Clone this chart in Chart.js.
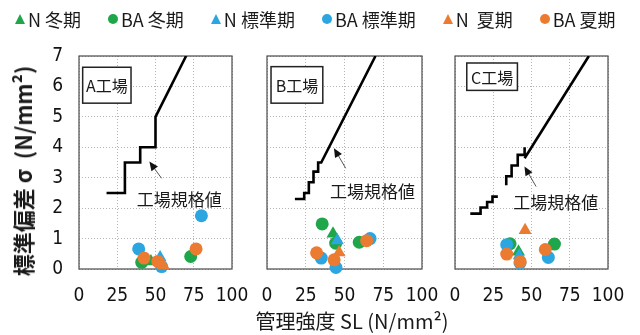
<!DOCTYPE html>
<html lang="ja">
<head>
<meta charset="utf-8">
<title>工場規格値と標準偏差</title>
<script src="https://cdn.jsdelivr.net/npm/chart.js@4.4.1/dist/chart.umd.min.js"></script>
<style>
  body { margin: 0; background: #fff; }
  #wrap { position: relative; width: 640px; height: 335px; overflow: hidden;
          font-family: "Noto Sans CJK JP", "Noto Sans", sans-serif; color: #1a1a1a; }
  #wrap canvas { position: absolute; left: 0; top: 0; }
  #legend { position: absolute; left: 15px; top: 8px; display: flex; gap: 27px;
            font-size: 18px; line-height: 22px; white-space: pre; }
  .item { display: flex; align-items: center; gap: 3px; }
  .tri { width: 0; height: 0; border-left: 5px solid transparent; border-right: 5px solid transparent;
         border-bottom: 10px solid; }
  .dot { width: 10px; height: 10px; border-radius: 50%; }
  #ytitle { position: absolute; left: 22px; top: 171px; transform: translate(-50%, -50%) rotate(-90deg);
            font-size: 22px; font-weight: bold; white-space: pre; }
  #xtitle { position: absolute; left: 352px; top: 320px; transform: translate(-50%, -50%);
            font-size: 20px; white-space: pre; }
</style>
</head>
<body>
<div id="wrap">
  <canvas id="chartA" width="640" height="335"></canvas>
  <canvas id="chartB" width="640" height="335"></canvas>
  <canvas id="chartC" width="640" height="335"></canvas>
  <div id="legend"></div>
  <div id="ytitle">標準偏差 σ  (N/mm²)</div>
  <div id="xtitle">管理強度 SL (N/mm²)</div>
</div>
<script>
const xTicks = [0, 25, 50, 75, 100];
const yTicks = [0, 1, 2, 3, 4, 5, 6, 7];
const seriesLabels = ['N 冬期', 'BA 冬期', 'N 標準期', 'BA 標準期', 'N  夏期', 'BA 夏期'];
const seriesColors = ['#1fa64a', '#1fa64a', '#2ba6e0', '#2ba6e0', '#ec7b32', '#ec7b32'];
const seriesShapes = ['triangle', 'circle', 'triangle', 'circle', 'triangle', 'circle'];

// A工場  [SL, σ]
const aNWinter = [[47, 0.25]];
const aBAWinter = [[41, 0.22], [73, 0.41]];
const aNStandard = [[53, 0.38]];
const aBAStandard = [[39, 0.66], [54, 0.08], [80, 1.75]];
const aNSummer = [[55, 0.12]];
const aBASummer = [[42.5, 0.36], [51.5, 0.25], [76.5, 0.66]];
const aLimit = [[18, 2.5], [30, 2.5], [30, 3.5], [40, 3.5], [40, 4], [50, 4], [50, 5], [70, 7]];

// B工場
const bNWinter = [[42.6, 1.16]];
const bBAWinter = [[35.6, 1.48], [44.3, 0.85], [59.5, 0.88]];
const bNStandard = [[45.4, 0.94]];
const bBAStandard = [[35, 0.36], [44.5, 0.05], [66.5, 1.0]];
const bNSummer = [[46.5, 0.54]];
const bBASummer = [[32, 0.53], [43.3, 0.3], [64.3, 0.93]];
const bLimit = [[18, 2.3], [24, 2.3], [24, 2.5], [27, 2.5], [27, 2.85], [30, 2.85], [30, 3.2], [33, 3.2],
                [33, 3.5], [35, 3.5], [70, 7]];

// C工場
const cNWinter = [[41.5, 0.57]];
const cBAWinter = [[36, 0.83], [65, 0.82]];
const cNStandard = [[42, 0.44]];
const cBAStandard = [[33.8, 0.8], [42.5, 0.2], [61, 0.38]];
const cNSummer = [[45.8, 1.27]];
const cBASummer = [[33.8, 0.49], [42.6, 0.24], [59, 0.64]];
const cLimitLow = [[10, 1.82], [16.7, 1.82], [16.7, 2.02], [21, 2.02], [21, 2.2], [24.5, 2.2],
                   [24.5, 2.38], [28, 2.38]];
const cLimitHigh = [[33.5, 2.75], [33.5, 3.05], [37, 3.05], [37, 3.4], [41, 3.4], [41, 3.75],
                    [45.5, 3.75], [45.5, 4.0]];
const cLimitSlope = [[45.5, 3.64], [87.5, 7]];

const noteText = '工場規格値';

const panels = [
  { id: 'chartA', name: 'A工場', yAxis: true, pad: { left: 0, right: 408 },
    series: [aNWinter, aBAWinter, aNStandard, aBAStandard, aNSummer, aBASummer], limits: [aLimit],
    box: [2.4, 6.63, 34, 5.45], note: [65.6, 2.27], arrow: [54, 2.98, 46, 3.53] },
  { id: 'chartB', name: 'B工場', yAxis: false, pad: { left: 267, right: 218 },
    series: [bNWinter, bBAWinter, bNStandard, bBAStandard, bNSummer, bBASummer], limits: [bLimit],
    box: [2.6, 6.65, 36, 5.45], note: [68, 2.53], arrow: [50.8, 3.31, 43.2, 3.97] },
  { id: 'chartC', name: 'C工場', yAxis: false, pad: { left: 455, right: 32 },
    series: [cNWinter, cBAWinter, cNStandard, cBAStandard, cNSummer, cBASummer],
    limits: [cLimitLow, cLimitHigh, cLimitSlope],
    box: [7.7, 6.77, 40.8, 5.87], note: [65.8, 2.17], arrow: [53, 2.71, 45.4, 3.37] }
];

const tickFont = { family: '"Liberation Sans Narrow", "DejaVu Sans Condensed", "Liberation Sans", sans-serif', size: 19 };

function toPoints(pairs) {
  return pairs.map(p => ({ x: p[0], y: p[1] }));
}

// frame, name box, arrow and note for one panel
function notesPlugin(panel) {
  return {
    id: 'panelNotes',
    beforeDatasetsDraw(chart) {
      const { ctx, chartArea: ca } = chart;
      const x = chart.scales.x, y = chart.scales.y;
      ctx.save();
      ctx.strokeStyle = '#4a4a4a';
      ctx.lineWidth = 1.2;
      ctx.strokeRect(ca.left, ca.top, ca.right - ca.left, ca.bottom - ca.top);

      const l = x.getPixelForValue(panel.box[0]), t = y.getPixelForValue(panel.box[1]);
      const r = x.getPixelForValue(panel.box[2]), b = y.getPixelForValue(panel.box[3]);
      ctx.fillStyle = '#fff';
      ctx.fillRect(l, t, r - l, b - t);
      ctx.strokeStyle = '#222';
      ctx.lineWidth = 1.5;
      ctx.strokeRect(l, t, r - l, b - t);
      ctx.fillStyle = '#1a1a1a';
      ctx.textAlign = 'center';
      ctx.textBaseline = 'middle';
      ctx.font = '16px "Noto Sans CJK JP"';
      ctx.fillText(panel.name, (l + r) / 2, (t + b) / 2 + 1);

      ctx.font = '17px "Noto Sans CJK JP"';
      ctx.fillText(noteText, x.getPixelForValue(panel.note[0]), y.getPixelForValue(panel.note[1]));

      const x1 = x.getPixelForValue(panel.arrow[0]), y1 = y.getPixelForValue(panel.arrow[1]);
      const x2 = x.getPixelForValue(panel.arrow[2]), y2 = y.getPixelForValue(panel.arrow[3]);
      const ang = Math.atan2(y2 - y1, x2 - x1);
      ctx.strokeStyle = '#555';
      ctx.lineWidth = 1;
      ctx.beginPath();
      ctx.moveTo(x1, y1);
      ctx.lineTo(x2 - 6 * Math.cos(ang), y2 - 6 * Math.sin(ang));
      ctx.stroke();
      ctx.fillStyle = '#111';
      ctx.beginPath();
      ctx.moveTo(x2, y2);
      ctx.lineTo(x2 - 9 * Math.cos(ang) + 4 * Math.sin(ang), y2 - 9 * Math.sin(ang) - 4 * Math.cos(ang));
      ctx.lineTo(x2 - 9 * Math.cos(ang) - 4 * Math.sin(ang), y2 - 9 * Math.sin(ang) + 4 * Math.cos(ang));
      ctx.closePath();
      ctx.fill();
      ctx.restore();
    }
  };
}

function makePanel(panel) {
  const pointSets = panel.series.map((pairs, i) => ({
    label: seriesLabels[i],
    data: toPoints(pairs),
    pointStyle: seriesShapes[i],
    pointRadius: seriesShapes[i] === 'triangle' ? 7.5 : 6.5,
    backgroundColor: seriesColors[i],
    borderWidth: 0,
    clip: false
  }));
  // first dataset ends up on top, so put summer first
  pointSets.reverse();
  const lineSets = panel.limits.map(pairs => ({
    label: noteText,
    data: toPoints(pairs),
    showLine: true,
    pointRadius: 0,
    borderColor: '#000',
    borderWidth: 2.6,
    borderJoinStyle: 'miter',
    fill: false
  }));

  return new Chart(document.getElementById(panel.id), {
    type: 'scatter',
    data: { datasets: pointSets.concat(lineSets) },
    options: {
      responsive: false,
      animation: false,
      events: [],
      layout: { padding: { left: panel.pad.left, right: panel.pad.right, top: 56, bottom: 0 } },
      plugins: { legend: { display: false }, tooltip: { enabled: false } },
      scales: {
        x: {
          type: 'linear', min: 0, max: 100,
          afterBuildTicks: s => { s.ticks = xTicks.map(v => ({ value: v })); },
          afterFit: s => { s.height = 66; s.paddingLeft = 0; s.paddingRight = 0; },
          grid: { color: '#b5b5b5', lineWidth: 1, drawTicks: false },
          border: { display: false, dash: [1, 2] },
          ticks: { color: '#111', font: tickFont, padding: 16, maxRotation: 0, autoSkip: false }
        },
        y: {
          type: 'linear', min: 0, max: 7, display: true,
          afterBuildTicks: s => { s.ticks = yTicks.map(v => ({ value: v })); },
          afterFit: s => { s.width = panel.yAxis ? 79 : 0; s.paddingTop = 0; s.paddingBottom = 0; },
          grid: { color: '#b5b5b5', lineWidth: 1, drawTicks: false },
          border: { display: false, dash: [1, 2] },
          ticks: { display: panel.yAxis, color: '#111', font: tickFont, padding: 16 }
        }
      }
    },
    plugins: [notesPlugin(panel)]
  });
}

// legend
const legend = document.getElementById('legend');
seriesLabels.forEach((label, i) => {
  const item = document.createElement('div');
  item.className = 'item';
  const mark = document.createElement('span');
  if (seriesShapes[i] === 'triangle') {
    mark.className = 'tri';
    mark.style.borderBottomColor = seriesColors[i];
  } else {
    mark.className = 'dot';
    mark.style.background = seriesColors[i];
  }
  const text = document.createElement('span');
  text.textContent = label;
  item.appendChild(mark);
  item.appendChild(text);
  legend.appendChild(item);
});

panels.forEach(makePanel);
</script>
</body>
</html>
